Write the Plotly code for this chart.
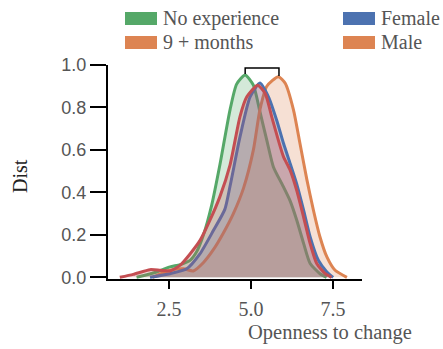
import plotly.graph_objects as go

# ---------------- data ----------------
green_x = [1.51, 2.12, 2.53, 2.84, 3.14, 3.34, 3.55, 3.80, 4.05, 4.36, 4.56, 4.82, 5.07, 5.27, 5.48, 5.68, 5.94, 6.19, 6.39, 6.60, 6.80, 7.10, 7.30]
green_y = [0.0, 0.025, 0.049, 0.06, 0.08, 0.12, 0.20, 0.34, 0.53, 0.79, 0.91, 0.953, 0.905, 0.78, 0.645, 0.52, 0.44, 0.36, 0.27, 0.16, 0.065, 0.017, 0.0]

orange_x = [2.0, 2.53, 2.94, 3.24, 3.55, 3.85, 4.16, 4.46, 4.77, 5.07, 5.27, 5.48, 5.83, 6.04, 6.29, 6.49, 6.70, 6.90, 7.10, 7.31, 7.56, 7.92]
orange_y = [0.0, 0.033, 0.04, 0.03, 0.07, 0.13, 0.21, 0.30, 0.42, 0.60, 0.79, 0.90, 0.945, 0.914, 0.79, 0.63, 0.46, 0.316, 0.19, 0.096, 0.033, 0.0]

blue_x = [1.92, 2.53, 3.04, 3.44, 3.85, 4.20, 4.36, 4.66, 4.97, 5.27, 5.53, 5.78, 5.99, 6.19, 6.39, 6.60, 6.80, 7.05, 7.31, 7.50]
blue_y = [0.0, 0.017, 0.04, 0.11, 0.22, 0.32, 0.43, 0.66, 0.85, 0.915, 0.85, 0.74, 0.63, 0.536, 0.44, 0.316, 0.19, 0.08, 0.025, 0.0]

red_x = [1.0, 1.41, 1.92, 2.23, 2.53, 2.84, 3.14, 3.45, 3.75, 4.05, 4.36, 4.66, 4.87, 5.20, 5.43, 5.63, 5.83, 5.99, 6.19, 6.39, 6.60, 6.80, 7.00, 7.26, 7.45]
red_y = [0.0, 0.014, 0.036, 0.033, 0.03, 0.057, 0.11, 0.175, 0.27, 0.38, 0.53, 0.756, 0.85, 0.905, 0.866, 0.756, 0.646, 0.567, 0.505, 0.41, 0.284, 0.159, 0.065, 0.017, 0.0]

bracket_x = [4.82, 4.82, 5.85, 5.85]
bracket_y = [0.958, 0.986, 0.986, 0.948]

x_ticks = [2.5, 5.0, 7.5]
x_tick_labels = ["2.5", "5.0", "7.5"]
y_ticks = [0.0, 0.2, 0.4, 0.6, 0.8, 1.0]
y_tick_labels = ["0.0", "0.2", "0.4", "0.6", "0.8", "1.0"]

legend_labels = ["No experience", "9 + months", "Female", "Male"]
legend_colors = ["#55A868", "#DD8452", "#4C72B0", "#DD8452"]

# ---------------- styling ----------------
GREEN, ORANGE, BLUE, RED = "#55A868", "#DD8452", "#4C72B0", "#C44E52"
W, H = 443, 349
ML, MR, MT, MB = 108, 81, 65, 70
SERIF = "Liberation Serif, Times New Roman, serif"
SANS = "Liberation Sans, Arial, sans-serif"


def rgba(hex_color, a):
    h = hex_color.lstrip("#")
    r, g, b = int(h[0:2], 16), int(h[2:4], 16), int(h[4:6], 16)
    return f"rgba({r},{g},{b},{a})"


def px_x(px):
    return (px - ML) / (W - ML - MR)


def px_y(py):
    return (H - MB - py) / (H - MT - MB)


fig = go.Figure()
series = [
    (green_x, green_y, GREEN, "No experience"),
    (orange_x, orange_y, ORANGE, "9 + months"),
    (blue_x, blue_y, BLUE, "Female"),
    (red_x, red_y, RED, "Male"),
]
for xs, ys, col, name in series:
    fig.add_trace(go.Scatter(
        x=xs, y=ys, mode="lines", name=name, showlegend=False,
        line=dict(color=col, width=3, shape="spline", smoothing=0.6),
        fill="tozeroy", fillcolor=rgba(col, 0.25), hoverinfo="skip",
    ))

fig.add_trace(go.Scatter(
    x=bracket_x, y=bracket_y, mode="lines", showlegend=False,
    line=dict(color="black", width=1.5), hoverinfo="skip",
))

# manual legend (two columns)
shapes = []
annotations = []
col_x = [125, 343]
row_y = [18.5, 42.5]
for i, (lab, col) in enumerate(zip(legend_labels, legend_colors)):
    c, r = i // 2, i % 2
    x0 = col_x[c]
    yc = row_y[r]
    shapes.append(dict(type="rect", xref="paper", yref="paper",
                       x0=px_x(x0), x1=px_x(x0 + 32), y0=px_y(yc + 6.5), y1=px_y(yc - 6.5),
                       fillcolor=col, line=dict(width=0)))
    annotations.append(dict(text=lab, xref="paper", yref="paper", x=px_x(x0 + 36), y=px_y(yc),
                            xanchor="left", yanchor="middle", showarrow=False,
                            font=dict(family=SERIF, size=20, color="#555555")))

annotations.append(dict(text="Openness to change", xref="paper", yref="paper",
                        x=px_x(414), y=px_y(332), xanchor="right", yanchor="middle",
                        showarrow=False, font=dict(family=SERIF, size=20.5, color="#555555")))
annotations.append(dict(text="Dist", xref="paper", yref="paper",
                        x=px_x(20), y=px_y(176), xanchor="center", yanchor="middle",
                        textangle=-90, showarrow=False,
                        font=dict(family=SERIF, size=20, color="#222222")))

fig.update_layout(
    width=W, height=H,
    margin=dict(l=ML, r=MR, t=MT, b=MB, pad=0),
    paper_bgcolor="white", plot_bgcolor="white",
    shapes=shapes, annotations=annotations,
    xaxis=dict(range=[0.64, 8.38], tickvals=x_ticks, ticktext=x_tick_labels,
               showgrid=False, zeroline=False, showline=True, linecolor="black", linewidth=2,
               ticks="outside", ticklen=8, tickwidth=2, tickcolor="black",
               ticklabelstandoff=3,
               tickfont=dict(family=SERIF, size=20, color="#555555"),
               layer="below traces", fixedrange=True),
    yaxis=dict(range=[-0.008, 1.0], tickvals=y_ticks, ticktext=y_tick_labels,
               showgrid=False, zeroline=False, showline=True, linecolor="black", linewidth=2,
               ticks="outside", ticklen=16, tickwidth=2, tickcolor="black",
               tickfont=dict(family=SANS, size=18, color="#555555"),
               layer="below traces", fixedrange=True),
)

fig.write_html("out.html")
